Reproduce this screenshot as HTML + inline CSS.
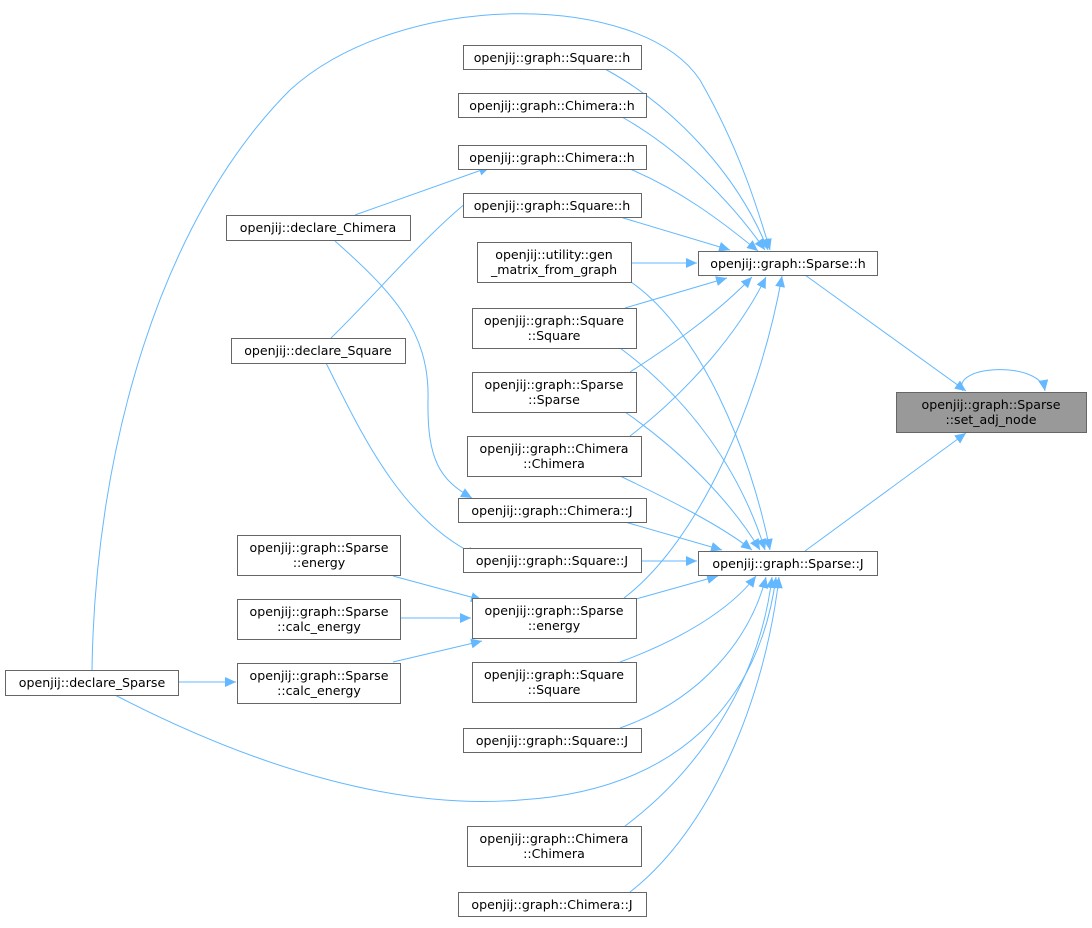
<!DOCTYPE html>
<html><head><meta charset="utf-8"><style>
html,body{margin:0;padding:0;background:#fff}
svg text{font-family:"DejaVu Sans","Liberation Sans",sans-serif;font-size:12.6px;fill:#000}
</style></head><body>
<svg width="1092" height="923" viewBox="0 0 1092 923" xmlns="http://www.w3.org/2000/svg">
<defs>
<marker id="a" markerUnits="userSpaceOnUse" markerWidth="12" markerHeight="10" refX="11" refY="5" orient="auto">
<path d="M0,0 L11,5 L0,10 Z" fill="#63b8ff"/>
</marker>
</defs>
<g fill="none" stroke="#63b8ff" stroke-width="1" marker-end="url(#a)">
<path d="M92,670 C95,450 160,220 290,90 C400,-10 640,-10 700,80 C740,150 758,210 770,250"/>
<path d="M605,69 C680,110 740,180 768,250"/>
<path d="M622,117 C680,150 730,200 765,250"/>
<path d="M630,169 C680,190 720,220 758,251"/>
<path d="M620,217 L730,250"/>
<path d="M631,263 L697,263"/>
<path d="M625,308 L727,278"/>
<path d="M630,372 C680,340 720,310 752,277"/>
<path d="M630,436 C690,390 740,330 766,277"/>
<path d="M624,598 C700,540 760,400 782,276"/>
<path d="M631,282 C700,330 750,450 770,550"/>
<path d="M620,348 C690,400 740,470 765,550"/>
<path d="M625,412 C680,450 730,500 760,550"/>
<path d="M620,476 C670,500 720,525 752,550"/>
<path d="M625,522 L722,550"/>
<path d="M641,561 L697,561"/>
<path d="M636,599 L718,576"/>
<path d="M620,662 C680,640 730,610 756,576"/>
<path d="M620,728 C700,700 750,640 766,577"/>
<path d="M625,826 C700,770 760,680 772,577"/>
<path d="M630,892 C710,830 765,700 779,577"/>
<path d="M115,695 C260,770 400,810 520,800 C680,790 760,700 776,577"/>
<path d="M805,275 L966,391"/>
<path d="M805,551 L966,433"/>
<path d="M963,391 C950,365 1040,360 1045,391"/>
<path d="M355,215 L490,167"/>
<path d="M335,241 C390,290 430,330 428,400 C427,460 440,480 472,498"/>
<path d="M331,338 C380,290 430,230 476,195"/>
<path d="M326,363 C360,430 400,520 478,556"/>
<path d="M393,576 L482,600"/>
<path d="M400,618 L471,618"/>
<path d="M393,662 L482,641"/>
<path d="M178,682 L236,682"/>
</g>
<g fill="#fff" stroke="#666" stroke-width="1">
<rect x="896.5" y="392.5" width="190" height="40" fill="#999"/>
<rect x="698.5" y="251.5" width="179" height="24"/>
<rect x="698.5" y="551.5" width="179" height="24"/>
<rect x="463.5" y="45.5" width="178" height="24"/>
<rect x="458.5" y="93.5" width="188" height="24"/>
<rect x="458.5" y="145.5" width="188" height="24"/>
<rect x="463.5" y="193.5" width="178" height="24"/>
<rect x="477.5" y="242.5" width="154" height="40"/>
<rect x="472.5" y="308.5" width="164" height="40"/>
<rect x="472.5" y="372.5" width="164" height="40"/>
<rect x="467.5" y="436.5" width="174" height="40"/>
<rect x="458.5" y="498.5" width="188" height="24"/>
<rect x="463.5" y="548.5" width="178" height="24"/>
<rect x="472.5" y="598.5" width="164" height="40"/>
<rect x="472.5" y="662.5" width="164" height="40"/>
<rect x="463.5" y="728.5" width="178" height="24"/>
<rect x="467.5" y="826.5" width="174" height="40"/>
<rect x="458.5" y="892.5" width="188" height="24"/>
<rect x="226.5" y="215.5" width="184" height="25"/>
<rect x="231.5" y="338.5" width="174" height="25"/>
<rect x="237.5" y="535.5" width="163" height="40"/>
<rect x="237.5" y="599.5" width="163" height="40"/>
<rect x="237.5" y="663.5" width="163" height="40"/>
<rect x="5.5" y="670.5" width="173" height="25"/>
</g>
<g text-anchor="middle">
<text x="991" y="409">openjij::graph::Sparse</text><text x="991" y="424">::set_adj_node</text>
<text x="788" y="268">openjij::graph::Sparse::h</text>
<text x="788" y="568">openjij::graph::Sparse::J</text>
<text x="552" y="62">openjij::graph::Square::h</text>
<text x="552" y="110">openjij::graph::Chimera::h</text>
<text x="552" y="162">openjij::graph::Chimera::h</text>
<text x="552" y="210">openjij::graph::Square::h</text>
<text x="554" y="259">openjij::utility::gen</text><text x="554" y="274">_matrix_from_graph</text>
<text x="554" y="325">openjij::graph::Square</text><text x="554" y="340">::Square</text>
<text x="554" y="389">openjij::graph::Sparse</text><text x="554" y="404">::Sparse</text>
<text x="554" y="453">openjij::graph::Chimera</text><text x="554" y="468">::Chimera</text>
<text x="552" y="515">openjij::graph::Chimera::J</text>
<text x="552" y="565">openjij::graph::Square::J</text>
<text x="554" y="615">openjij::graph::Sparse</text><text x="554" y="630">::energy</text>
<text x="554" y="679">openjij::graph::Square</text><text x="554" y="694">::Square</text>
<text x="552" y="745">openjij::graph::Square::J</text>
<text x="554" y="843">openjij::graph::Chimera</text><text x="554" y="858">::Chimera</text>
<text x="552" y="909">openjij::graph::Chimera::J</text>
<text x="318" y="232">openjij::declare_Chimera</text>
<text x="318" y="355">openjij::declare_Square</text>
<text x="319" y="552">openjij::graph::Sparse</text><text x="319" y="567">::energy</text>
<text x="319" y="616">openjij::graph::Sparse</text><text x="319" y="631">::calc_energy</text>
<text x="319" y="680">openjij::graph::Sparse</text><text x="319" y="695">::calc_energy</text>
<text x="92" y="687">openjij::declare_Sparse</text>
</g>
</svg>
</body></html>
